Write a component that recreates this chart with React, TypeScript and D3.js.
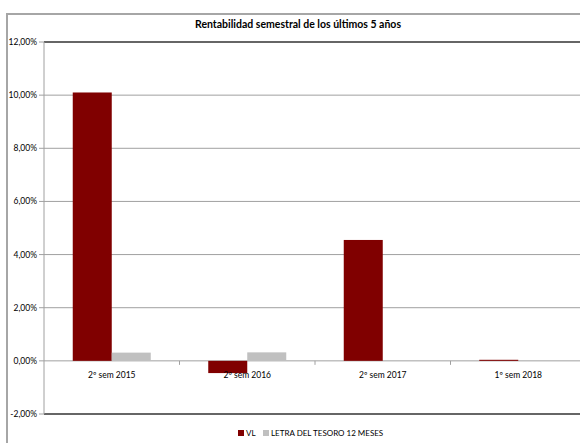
import React from "react";
import * as d3 from "d3";

const categories = ["2º sem 2015", "2º sem 2016", "2º sem 2017", "1º sem 2018"];
const seriesNames = ["VL", "LETRA DEL TESORO 12 MESES"];
const vlValues = [10.1, -0.46, 4.55, 0.04];
const letraValues = [0.31, 0.32, 0, 0];
const yTicks = [-2, 0, 2, 4, 6, 8, 10, 12];
const colors = ["#800000", "#c0c0c0"];

const W = 580;
const H = 443;
const font = "Lato, 'Open Sans', sans-serif";

export default function App() {
  const left = 44;
  const right = 586;
  const top = 42;
  const bottom = 414;
  const y = d3.scaleLinear().domain([-2, 12]).range([bottom, top]);
  const x0 = d3.scaleBand<string>().domain(categories).range([left, right]).paddingInner(0).paddingOuter(0);
  const barW = 39;
  const series = [vlValues, letraValues];
  const fmt = (v: number) => v.toFixed(2).replace(".", ",") + "%";

  return (
    <svg width={W} height={H} style={{ position: "absolute", left: 0, top: 0, background: "#fff" }}>
      {/* outer frame */}
      <line x1={6} x2={W} y1={14} y2={14} stroke="#a6a6a6" strokeWidth={2} />
      <line x1={7} x2={7} y1={13} y2={H} stroke="#a6a6a6" strokeWidth={2} />
      <text x={298} y={28} textAnchor="middle" fontFamily={font} fontWeight="bold" fontSize={10.5} fill="#000">
        Rentabilidad semestral de los últimos 5 años
      </text>
      {/* gridlines */}
      {yTicks.map((t) => {
        const edge = t === 12 || t === -2;
        return (
          <g key={t}>
            <line
              x1={left}
              x2={W}
              y1={y(t)}
              y2={y(t)}
              stroke={edge ? "#333" : "#a0a0a0"}
              strokeWidth={edge ? 1.5 : 1}
            />
            <line x1={left - 5} x2={left} y1={y(t)} y2={y(t)} stroke="#a0a0a0" />
            <text x={left - 7} y={y(t) + 3} textAnchor="end" fontFamily={font} fontSize={8.5} fill="#000">
              {fmt(t)}
            </text>
          </g>
        );
      })}
      {/* bars */}
      {categories.map((c, i) => {
        const cx = x0(c)! + x0.bandwidth() / 2;
        return series.map((s, j) => {
          const v = s[i];
          if (v === 0) return null;
          const bx = cx - barW + j * barW;
          return (
            <rect
              key={c + j}
              x={bx}
              y={Math.min(y(v), y(0))}
              width={barW}
              height={Math.abs(y(v) - y(0))}
              fill={colors[j]}
            />
          );
        });
      })}
      {/* y axis line */}
      <line x1={left} x2={left} y1={top} y2={bottom} stroke="#a0a0a0" />
      {/* zero axis ticks */}
      {categories.slice(1).map((c) => (
        <line key={c} x1={x0(c)!} x2={x0(c)!} y1={y(0)} y2={y(0) + 4} stroke="#a0a0a0" />
      ))}
      {/* category labels */}
      {categories.map((c) => (
        <text
          key={c}
          x={x0(c)! + x0.bandwidth() / 2}
          y={y(0) + 17}
          textAnchor="middle"
          fontFamily={font}
          fontSize={8.5}
          fill="#000"
        >
          {c}
        </text>
      ))}
      {/* legend */}
      <rect x={238} y={430} width={6} height={6} fill={colors[0]} />
      <text x={246} y={436} fontFamily={font} fontSize={8} fill="#000">{seriesNames[0]}</text>
      <rect x={263} y={430} width={6} height={6} fill={colors[1]} />
      <text x={271} y={436} fontFamily={font} fontSize={8} fill="#000">{seriesNames[1]}</text>
    </svg>
  );
}
